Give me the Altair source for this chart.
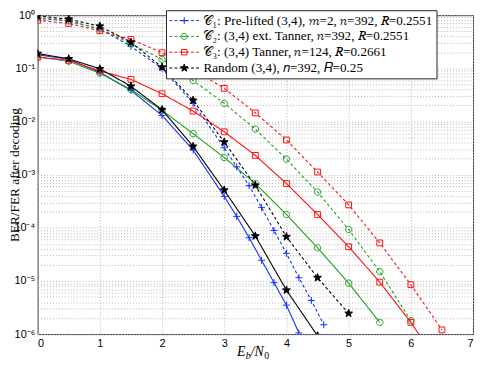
import altair as alt
import pandas as pd
import math

# ---------------- data ----------------
labels = [
    "𝒞₁: Pre-lifted (3,4), 𝑚=2, 𝑛=392, 𝑅=0.2551",
    "𝒞₂: (3,4) ext. Tanner, 𝑛=392, 𝑅=0.2551",
    "𝒞₃: (3,4) Tanner, 𝑛=124, 𝑅=0.2661",
    "Random (3,4), 𝑛=392, 𝑅=0.25",
]
colors = ["#1030ff", "#1fa01f", "#ff1010", "#000000"]

snr_c1_ber = [0, 0.5, 1, 1.5, 2, 2.5, 3, 3.2, 3.4, 3.6, 3.8, 4.0, 4.2]
ber_c1 = [0.18, 0.148, 0.084, 0.0385, 0.013, 2.9e-3, 3.9e-4, 1.64e-4, 6.5e-5, 2.45e-5, 9.3e-6, 3.5e-6, 1.05e-6]
snr_c1_fer = [0, 0.5, 1, 1.5, 2, 2.5, 3, 3.2, 3.4, 3.6, 3.8, 4.0, 4.2, 4.4, 4.6]
fer_c1 = [0.88, 0.78, 0.55, 0.26, 0.10, 0.022, 3.2e-3, 1.4e-3, 6.2e-4, 2.4e-4, 8.9e-5, 3.3e-5, 1.15e-5, 4.3e-6, 1.5e-6]

snr_c2_ber = [0, 0.5, 1, 1.5, 2, 2.5, 3, 3.5, 4, 4.5, 5, 5.5]
ber_c2 = [0.165, 0.136, 0.081, 0.040, 0.0162, 5.9e-3, 2.1e-3, 6.8e-4, 1.78e-4, 4.2e-5, 9.1e-6, 1.66e-6]
snr_c2_fer = [0, 0.5, 1, 1.5, 2, 2.5, 3, 3.5, 4, 4.5, 5, 5.5, 6]
fer_c2 = [0.90, 0.78, 0.55, 0.29, 0.148, 0.059, 0.022, 7.2e-3, 1.95e-3, 4.7e-4, 9.3e-5, 1.5e-5, 1.8e-6]

snr_c3_ber = [0, 0.5, 1, 1.5, 2, 2.5, 3, 3.5, 4, 4.5, 5, 5.5, 6, 6.5]
ber_c3 = [0.162, 0.141, 0.089, 0.062, 0.0333, 0.0157, 6.4e-3, 2.3e-3, 6.8e-4, 1.78e-4, 4.4e-5, 9.5e-6, 1.66e-6, 2.3e-7]
snr_c3_fer = [0, 0.5, 1, 1.5, 2, 2.5, 3, 3.5, 4, 4.5, 5, 5.5, 6, 6.5]
fer_c3 = [0.80, 0.70, 0.51, 0.35, 0.197, 0.095, 0.042, 0.0145, 4.5e-3, 1.12e-3, 2.7e-4, 5.2e-5, 8.5e-6, 1.2e-6]

snr_rand_ber = [0, 0.5, 1, 1.5, 2, 2.5, 3, 3.5, 4, 4.5]
ber_rand = [0.19, 0.151, 0.098, 0.046, 0.0166, 3.4e-3, 5.1e-4, 7.0e-5, 6.7e-6, 9.3e-7]
snr_rand_fer = [0, 0.5, 1, 1.5, 2, 2.5, 3, 3.5, 4, 4.5, 5]
fer_rand = [0.97, 0.84, 0.62, 0.31, 0.105, 0.025, 4.1e-3, 6.3e-4, 6.8e-5, 1.15e-5, 2.45e-6]

x_ticks = [0, 1, 2, 3, 4, 5, 6, 7]

# ---------------- table ----------------
rows = []
series = [
    (labels[0], snr_c1_ber, ber_c1, snr_c1_fer, fer_c1),
    (labels[1], snr_c2_ber, ber_c2, snr_c2_fer, fer_c2),
    (labels[2], snr_c3_ber, ber_c3, snr_c3_fer, fer_c3),
    (labels[3], snr_rand_ber, ber_rand, snr_rand_fer, fer_rand),
]
for lab, xb, yb, xf, yf in series:
    for a, b in zip(xb, yb):
        rows.append({"label": lab, "metric": "BER", "x": a, "y": b})
    for a, b in zip(xf, yf):
        rows.append({"label": lab, "metric": "FER", "x": a, "y": b})
df = pd.DataFrame(rows)

# ---------------- marker shapes ----------------
def star_path(r_out, r_in, s=1.0):
    pts = []
    for k in range(10):
        ang = math.radians(-90 + 36 * k)
        r = r_out if k % 2 == 0 else r_in
        pts.append((s * r * math.cos(ang), s * r * math.sin(ang)))
    return "M" + "L".join(f"{px:.4f},{py:.4f}" for px, py in pts) + "Z"

def plus_path(s):
    return f"M{-s},0H{s}M0,{-s}V{s}"

def circle_path(r):
    return f"M{r},0A{r},{r},0,1,1,{-r},0A{r},{r},0,1,1,{r},0Z"

def square_path(h):
    return f"M{-h},{-h}H{h}V{h}H{-h}Z"

marker_paths = [plus_path(0.75), circle_path(0.68), square_path(0.62), star_path(0.88, 0.36)]
f = 0.30
dashes = "M-1,0H-0.8M-0.66,0H-0.46M-0.32,0H0.32M0.46,0H0.66M0.8,0H1"
legend_paths = [
    dashes + plus_path(round(0.75 * f, 3)),
    dashes + circle_path(round(0.68 * f, 3)),
    dashes + square_path(round(0.62 * f, 3)),
    dashes + star_path(0.88, 0.36, f),
]
fills = ["transparent", "transparent", "transparent", "#000000"]

# ---------------- axes ----------------
y_ticks = []
for k in range(-6, 0):
    for m in range(1, 10):
        y_ticks.append(float(f"{m}e{k}"))
y_ticks.append(1.0)

label_expr = (
    "abs(log(datum.value)/LN10 - round(log(datum.value)/LN10)) < 0.001 ? "
    "'10' + ['⁰','⁻¹','⁻²','⁻³','⁻⁴','⁻⁵','⁻⁶'][-round(log(datum.value)/LN10)] : ''"
)

x_enc = alt.X(
    "x:Q",
    scale=alt.Scale(domain=[0, 7], nice=False, zero=False),
    axis=alt.Axis(values=x_ticks, title=None, grid=True, gridDash=[1, 2], gridColor="#b5b5b5",
                  domain=False, ticks=False, labelFont="Liberation Sans", labelFontSize=11,
                  labelColor="#000", labelPadding=4),
)
y_enc = alt.Y(
    "y:Q",
    scale=alt.Scale(type="log", domain=[1e-6, 1], nice=False),
    axis=alt.Axis(values=y_ticks, labelExpr=label_expr, grid=True, gridDash=[1, 2],
                  gridColor="#b5b5b5", domain=False, ticks=False, labelOverlap=False,
                  labelFont="Liberation Sans", labelFontSize=11, labelColor="#000", labelPadding=3,
                  title="BER/FER after decoding", titleFont="Liberation Serif", titleFontSize=13.5,
                  titleFontWeight="normal", titleColor="#000", titleX=-23, titleY=161.5,
                  titleAngle=270, titleAlign="center", titleBaseline="middle"),
)

base = alt.Chart(df).encode(x=x_enc, y=y_enc)

lines = base.mark_line(strokeWidth=1.1, clip=True).encode(
    stroke=alt.Stroke("label:N", scale=alt.Scale(domain=labels, range=colors), legend=None),
    strokeDash=alt.StrokeDash("metric:N", scale=alt.Scale(domain=["BER", "FER"], range=[[1, 0], [3, 2.5]]), legend=None),
    order="x:Q",
)

points = base.mark_point(filled=True, size=90, strokeWidth=1, opacity=1, clip=True).encode(
    shape=alt.Shape("label:N", scale=alt.Scale(domain=labels, range=marker_paths), legend=None),
    stroke=alt.Stroke("label:N", scale=alt.Scale(domain=labels, range=colors), legend=None),
    fill=alt.Fill("label:N", scale=alt.Scale(domain=labels, range=fills), legend=None),
)

leg = alt.Legend(
    title=None, orient="none", legendX=130, legendY=-5, fillColor="white", strokeColor="#222",
    padding=3, labelFont="Liberation Serif", labelFontSize=13.3, labelColor="#000", labelLimit=500,
    symbolSize=900, symbolStrokeWidth=1, clipHeight=15, rowPadding=1, labelOffset=4,
    symbolOpacity=1, cornerRadius=0,
)
legend_layer = base.mark_point(filled=True, size=900, strokeWidth=1, opacity=0).encode(
    shape=alt.Shape("label:N", scale=alt.Scale(domain=labels, range=legend_paths), legend=leg),
    stroke=alt.Stroke("label:N", scale=alt.Scale(domain=labels, range=colors), legend=leg),
    fill=alt.Fill("label:N", scale=alt.Scale(domain=labels, range=fills), legend=leg),
)

def piece(txt, px, py, size, italic=True):
    return alt.Chart(pd.DataFrame({"t": [txt]})).mark_text(
        font="Liberation Serif", fontSize=size, fontStyle="italic" if italic else "normal",
        align="left", baseline="middle", color="#000",
    ).encode(text="t:N", x=alt.value(px), y=alt.value(py))

title_pieces = [
    piece("E", 202, 341, 14),
    piece("b", 210.8, 345, 10),
    piece("/N", 215.8, 341, 14),
    piece("0", 229.5, 345, 10, italic=False),
]

chart = alt.layer(lines, points, legend_layer, *title_pieces).resolve_scale(
    shape="independent", stroke="independent", fill="independent"
).properties(
    width=441, height=323,
    padding={"left": 30, "top": 5, "right": 4, "bottom": 27},
    autosize=alt.AutoSizeParams(type="none"),
).configure_view(stroke="#333", strokeWidth=1)

chart.save("out.html", embed_options={"renderer": "svg", "actions": False})
